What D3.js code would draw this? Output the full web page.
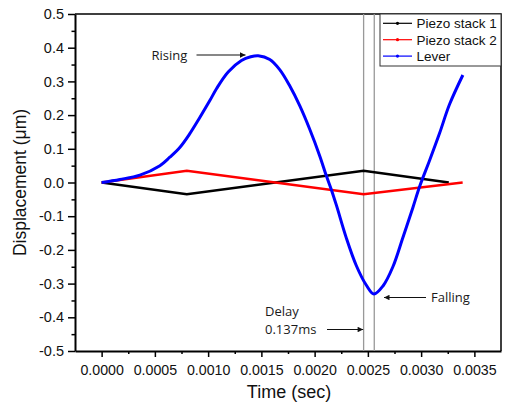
<!DOCTYPE html>
<html>
<head>
<meta charset="utf-8">
<script src="https://cdn.jsdelivr.net/npm/d3@7"></script>
<style>
  html, body { margin: 0; padding: 0; background: #fff; }
  svg { display: block; }
</style>
</head>
<body>
<svg id="chart" width="507" height="404"></svg>
<script>
// Time (s) and displacement (µm) of the two piezo stacks (triangle drive)
const piezo1Time = [0, 0.0008, 0.00246, 0.00326];
const piezo1Disp = [0, -0.035, 0.035, 0];
const piezo2Time = [0, 0.0008, 0.00246, 0.00339];
const piezo2Disp = [0, 0.035, -0.035, 0];

// Lever response (s, µm)
const leverTime = [0, 0.000172, 0.000359, 0.000547, 0.000640, 0.000734, 0.000828, 0.000922, 0.001016,
  0.001080, 0.001188, 0.001313, 0.001400, 0.001470, 0.001579, 0.001672, 0.001766, 0.001860,
  0.001954, 0.002048, 0.002111, 0.002158, 0.002205, 0.002298, 0.002392, 0.002486, 0.002557,
  0.002642, 0.002735, 0.002829, 0.002923, 0.002986, 0.003080, 0.003173, 0.003267, 0.003392];
const leverDisp = [0, 0.009, 0.022, 0.050, 0.075, 0.104, 0.145, 0.193, 0.243,
  0.279, 0.328, 0.362, 0.373, 0.376, 0.365, 0.335, 0.287, 0.228,
  0.158, 0.079, 0.019, -0.022, -0.068, -0.165, -0.247, -0.305, -0.331,
  -0.307, -0.250, -0.163, -0.074, -0.012, 0.066, 0.146, 0.232, 0.319];

// Marker lines: piezo peak and lever minimum
const markerTimes = [0.00246, 0.00256];

const xTicks = [0, 0.0005, 0.0010, 0.0015, 0.0020, 0.0025, 0.0030, 0.0035];
const xMinorTicks = [0.00025, 0.00075, 0.00125, 0.00175, 0.00225, 0.00275, 0.00325];
const yTicks = [-0.5, -0.4, -0.3, -0.2, -0.1, 0.0, 0.1, 0.2, 0.3, 0.4, 0.5];
const yMinorTicks = [-0.45, -0.35, -0.25, -0.15, -0.05, 0.05, 0.15, 0.25, 0.35, 0.45];

const seriesNames = ["Piezo stack 1", "Piezo stack 2", "Lever"];
const seriesColors = ["#000000", "#ff0000", "#0000ff"];

const svg = d3.select("#chart");
const plotLeft = 75, plotRight = 501, plotTop = 14, plotBottom = 351;

const x = d3.scaleLinear().domain([-0.00025, 0.00375]).range([plotLeft, plotRight]);
const y = d3.scaleLinear().domain([-0.5, 0.5]).range([plotBottom, plotTop]);

const axisFont = "'Liberation Sans', Arial, sans-serif";
const noteFont = "'Open Sans', 'Noto Sans', sans-serif";
const hyphen = s => s.replace("\u2212", "-");

// Minor ticks
svg.append("g").attr("transform", `translate(0,${plotBottom})`)
  .call(d3.axisBottom(x).tickValues(xMinorTicks).tickSize(3).tickFormat(""))
  .call(g => g.select(".domain").remove())
  .call(g => g.selectAll("line").attr("stroke-width", 1.5));
svg.append("g").attr("transform", `translate(${plotLeft},0)`)
  .call(d3.axisLeft(y).tickValues(yMinorTicks).tickSize(3.5).tickFormat(""))
  .call(g => g.select(".domain").remove())
  .call(g => g.selectAll("line").attr("stroke-width", 1.5));

// Major axes
svg.append("g").attr("transform", `translate(0,${plotBottom})`)
  .call(d3.axisBottom(x).tickValues(xTicks).tickSize(6).tickSizeOuter(0).tickPadding(8)
    .tickFormat(d => hyphen(d3.format(".4f")(d))))
  .call(g => g.select(".domain").attr("stroke-width", 2))
  .call(g => g.selectAll("line").attr("stroke-width", 1.5))
  .call(g => g.selectAll("text").attr("font-family", axisFont).attr("font-size", 14.2).attr("fill", "#111"));

svg.append("g").attr("transform", `translate(${plotLeft},0)`)
  .call(d3.axisLeft(y).tickValues(yTicks).tickSize(7).tickSizeOuter(0).tickPadding(4)
    .tickFormat(d => hyphen(d3.format(".1f")(d))))
  .call(g => g.select(".domain").attr("stroke-width", 2))
  .call(g => g.selectAll("line").attr("stroke-width", 1.5))
  .call(g => g.selectAll("text").attr("font-family", axisFont).attr("font-size", 14.5).attr("fill", "#111"));

// Top and right frame
svg.append("path")
  .attr("d", `M${plotLeft},${plotTop}H${plotRight}V${plotBottom}`)
  .attr("fill", "none").attr("stroke", "#000").attr("stroke-width", 1.5);

// Axis titles
svg.append("text")
  .attr("x", (plotLeft + plotRight) / 2 + 1).attr("y", 397.5)
  .attr("text-anchor", "middle")
  .attr("font-family", axisFont).attr("font-size", 18).attr("fill", "#111")
  .text("Time (sec)");
svg.append("text")
  .attr("transform", `translate(26,${(plotTop + plotBottom) / 2}) rotate(-90)`)
  .attr("text-anchor", "middle")
  .attr("font-family", axisFont).attr("font-size", 17.5).attr("fill", "#111")
  .text("Displacement (\u03bcm)");

// Vertical marker lines
svg.append("g").selectAll("line").data(markerTimes).join("line")
  .attr("x1", d => x(d)).attr("x2", d => x(d))
  .attr("y1", plotTop).attr("y2", plotBottom)
  .attr("stroke", "#999").attr("stroke-width", 1.3);

// Data lines
const zip = (t, v) => t.map((d, i) => [d, v[i]]);
const straight = d3.line().x(d => x(d[0])).y(d => y(d[1]));
const smooth = d3.line().x(d => x(d[0])).y(d => y(d[1])).curve(d3.curveCatmullRom.alpha(0.5));

svg.append("path").datum(zip(piezo1Time, piezo1Disp))
  .attr("d", straight).attr("fill", "none")
  .attr("stroke", seriesColors[0]).attr("stroke-width", 2.4);
svg.append("path").datum(zip(piezo2Time, piezo2Disp))
  .attr("d", straight).attr("fill", "none")
  .attr("stroke", seriesColors[1]).attr("stroke-width", 2.4);
svg.append("path").datum(zip(leverTime, leverDisp))
  .attr("d", smooth).attr("fill", "none")
  .attr("stroke", seriesColors[2]).attr("stroke-width", 3);

// Legend
const legend = svg.append("g");
legend.append("rect")
  .attr("x", 380).attr("y", plotTop).attr("width", plotRight - 380).attr("height", 52)
  .attr("fill", "#fff").attr("stroke", "#333").attr("stroke-width", 1);
seriesNames.forEach((name, i) => {
  const ly = 23.3 + i * 16.4;
  legend.append("line")
    .attr("x1", 383).attr("x2", 412).attr("y1", ly).attr("y2", ly)
    .attr("stroke", seriesColors[i]).attr("stroke-width", 1.2);
  legend.append("circle")
    .attr("cx", 397.5).attr("cy", ly).attr("r", 1.6)
    .attr("fill", seriesColors[i]);
  legend.append("text")
    .attr("x", 416.5).attr("y", ly + 5)
    .attr("font-family", axisFont).attr("font-size", 13.5).attr("fill", "#111")
    .text(name);
});

// Annotations with arrows
const defs = svg.append("defs");
defs.append("marker")
  .attr("id", "arrowhead").attr("viewBox", "0 0 10 10")
  .attr("refX", 10).attr("refY", 5)
  .attr("markerWidth", 7).attr("markerHeight", 5.5)
  .attr("markerUnits", "userSpaceOnUse")
  .attr("orient", "auto")
  .append("path").attr("d", "M0,0L10,5L0,10Z").attr("fill", "#111");

const arrow = (x1, y1, x2, y2) => svg.append("line")
  .attr("x1", x1).attr("y1", y1).attr("x2", x2).attr("y2", y2)
  .attr("stroke", "#111").attr("stroke-width", 1.1)
  .attr("marker-end", "url(#arrowhead)");
const note = (tx, ty, txt) => svg.append("text")
  .attr("x", tx).attr("y", ty)
  .attr("font-family", noteFont).attr("font-size", 13).attr("fill", "#1a1a1a")
  .text(txt);

note(151.5, 60, "Rising");
arrow(196.5, 55, 245.5, 55);

note(431, 301.5, "Falling");
arrow(426, 297.5, 384, 297.5);

note(265, 315.5, "Delay");
note(265, 334, "0.137ms");
arrow(327, 329.5, x(markerTimes[0]) - 0.5, 329.5);
</script>
</body>
</html>
